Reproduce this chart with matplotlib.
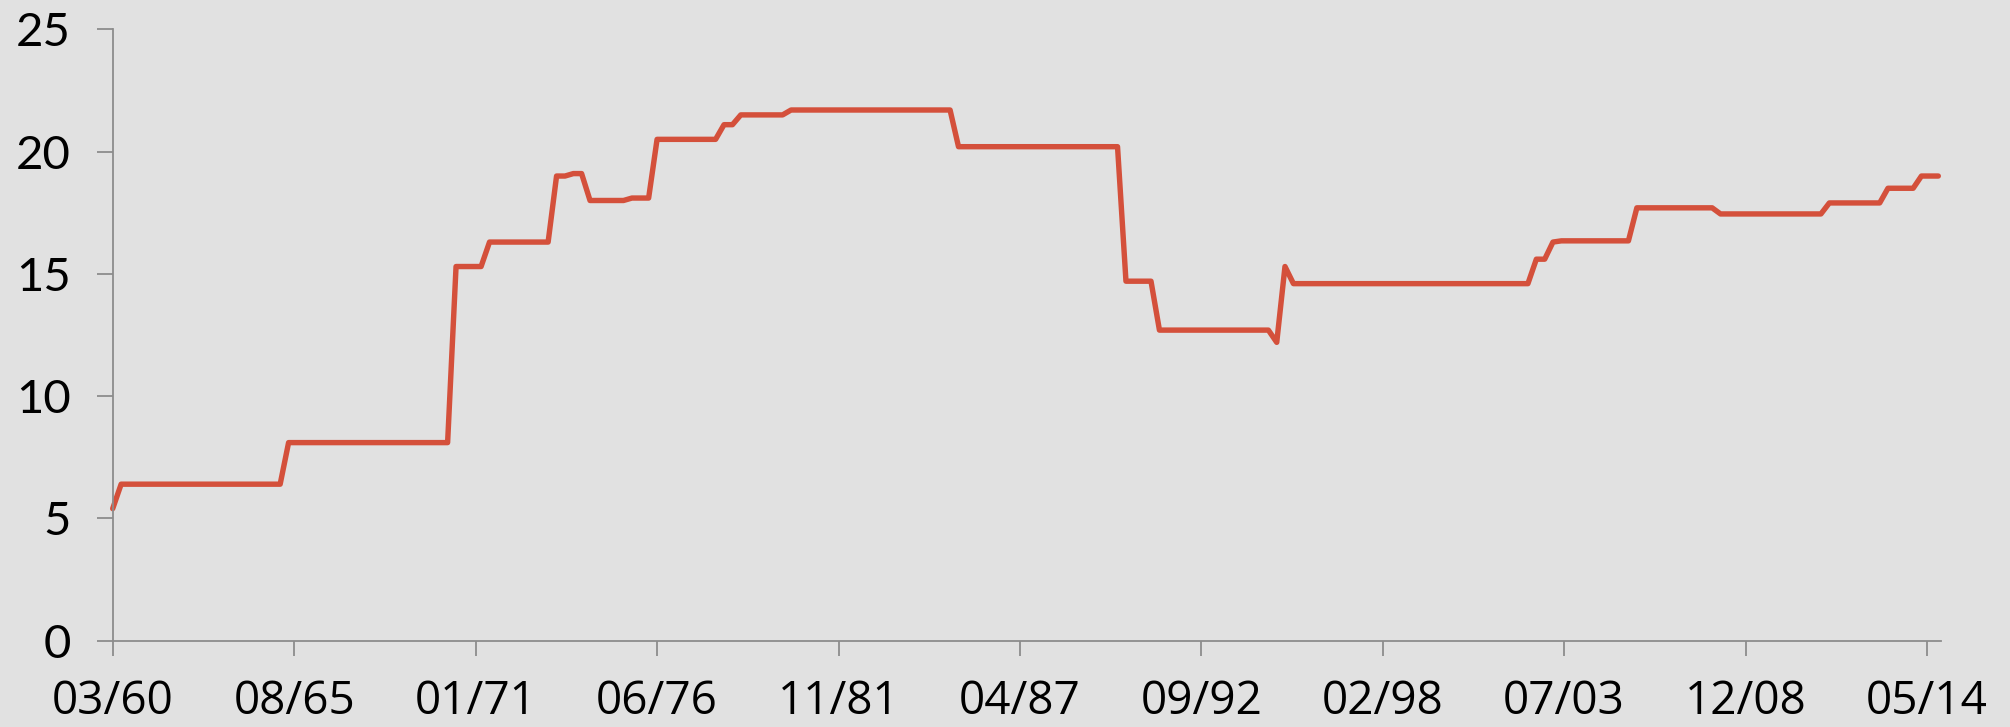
import matplotlib
matplotlib.use("Agg")
import matplotlib.pyplot as plt
import matplotlib.dates as mdates
import pandas as pd

# Quarterly observations, March 1960 .. September 2014
start_date = "1960-03-01"
n_quarters = 219
values = [
    5.4,
    6.4, 6.4, 6.4, 6.4, 6.4, 6.4, 6.4, 6.4, 6.4, 6.4,
    6.4, 6.4, 6.4, 6.4, 6.4, 6.4, 6.4, 6.4, 6.4, 6.4,
    8.1, 8.1, 8.1, 8.1, 8.1, 8.1, 8.1, 8.1, 8.1, 8.1,
    8.1, 8.1, 8.1, 8.1, 8.1, 8.1, 8.1, 8.1, 8.1, 8.1,
    15.3, 15.3, 15.3, 15.3,
    16.3, 16.3, 16.3, 16.3, 16.3, 16.3, 16.3, 16.3,
    19.0, 19.0, 19.1, 19.1,
    18.0, 18.0, 18.0, 18.0, 18.0,
    18.1, 18.1, 18.1,
    20.5, 20.5, 20.5, 20.5, 20.5, 20.5, 20.5, 20.5,
    21.1, 21.1,
    21.5, 21.5, 21.5, 21.5, 21.5, 21.5,
    21.7, 21.7, 21.7, 21.7, 21.7, 21.7, 21.7, 21.7, 21.7, 21.7,
    21.7, 21.7, 21.7, 21.7, 21.7, 21.7, 21.7, 21.7, 21.7, 21.7,
    20.2, 20.2, 20.2, 20.2, 20.2, 20.2, 20.2, 20.2, 20.2, 20.2,
    20.2, 20.2, 20.2, 20.2, 20.2, 20.2, 20.2, 20.2, 20.2, 20.2,
    14.7, 14.7, 14.7, 14.7,
    12.7, 12.7, 12.7, 12.7, 12.7, 12.7, 12.7, 12.7, 12.7, 12.7,
    12.7, 12.7, 12.7, 12.7,
    12.2,
    15.3,
    14.6, 14.6, 14.6, 14.6, 14.6, 14.6, 14.6, 14.6, 14.6, 14.6,
    14.6, 14.6, 14.6, 14.6, 14.6, 14.6, 14.6, 14.6, 14.6, 14.6,
    14.6, 14.6, 14.6, 14.6, 14.6, 14.6, 14.6, 14.6, 14.6,
    15.6, 15.6,
    16.3,
    16.35, 16.35, 16.35, 16.35, 16.35, 16.35, 16.35, 16.35, 16.35,
    17.7, 17.7, 17.7, 17.7, 17.7, 17.7, 17.7, 17.7, 17.7, 17.7,
    17.45, 17.45, 17.45, 17.45, 17.45, 17.45, 17.45, 17.45, 17.45, 17.45,
    17.45, 17.45, 17.45,
    17.9, 17.9, 17.9, 17.9, 17.9, 17.9, 17.9,
    18.5, 18.5, 18.5, 18.5,
    19.0, 19.0, 19.0,
]
tick_dates = ["1960-03-01", "1965-08-01", "1971-01-01", "1976-06-01", "1981-11-01",
              "1987-04-01", "1992-09-01", "1998-02-01", "2003-07-01", "2008-12-01",
              "2014-05-01"]
y_ticks = [0, 5, 10, 15, 20, 25]

dates = pd.date_range(start_date, periods=n_quarters, freq="3MS")

BG = "#E1E1E1"
LINE = "#D4503B"
AXC = "#8C8C8C"

fig = plt.figure(figsize=(20.10, 7.27), dpi=100, facecolor=BG)
ax = fig.add_axes([0.05607, 0.1187, 0.9657 - 0.05607, 0.9597 - 0.1187])
ax.set_facecolor(BG)

ax.plot(dates, values, color=LINE, lw=3.9, solid_joinstyle="round",
        solid_capstyle="round", clip_on=False)

ax.set_xlim(pd.Timestamp(start_date), pd.Timestamp("2014-10-01"))
ax.set_ylim(0, 25)

ax.set_xticks(pd.to_datetime(tick_dates))
ax.xaxis.set_major_formatter(mdates.DateFormatter("%m/%y"))
ax.set_yticks(y_ticks)

for s in ["top", "right"]:
    ax.spines[s].set_visible(False)
for s in ["left", "bottom"]:
    ax.spines[s].set_color(AXC)
    ax.spines[s].set_linewidth(1.3)

ax.tick_params(axis="y", direction="out", length=11.2, width=1.3, color=AXC,
               pad=19, labelsize=34, labelcolor="black")
ax.tick_params(axis="x", direction="out", length=10.5, width=1.3, color=AXC,
               pad=17, labelsize=33, labelcolor="black")
for lbl in ax.get_yticklabels():
    lbl.set_fontfamily(["Lato", "DejaVu Sans"])
for lbl in ax.get_xticklabels():
    lbl.set_fontfamily(["Open Sans", "DejaVu Sans"])

fig.savefig("out.png", dpi=100, facecolor=BG)
